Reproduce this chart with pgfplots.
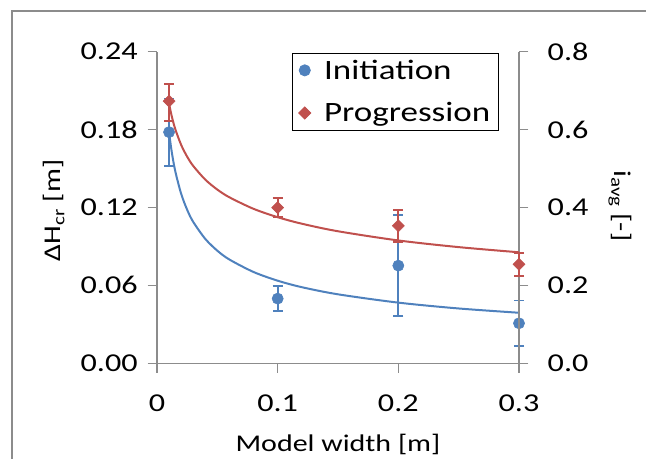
\documentclass[border=0pt]{standalone}
\usepackage{pgfplots}
\pgfplotsset{compat=1.18}
\usepackage{fontspec}
\setmainfont{Carlito}[FakeStretch=1.25]
\definecolor{cblue}{HTML}{4F81BD}
\definecolor{cred}{HTML}{C0504D}
\definecolor{axgray}{HTML}{8C8C8C}
\definecolor{framegray}{HTML}{8C8C8C}
\begin{document}
\begin{tikzpicture}
\path[use as bounding box] (0,0) rectangle (484.5pt,344.25pt);
\draw[framegray, line width=1.5pt] (9pt,-2pt) -- (9pt,336pt) -- (490pt,336pt);
\pgfplotsset{
  mystyle/.style={
    scale only axis, width=271.5pt, height=233.7pt,
    at={(117.75pt,71.8pt)}, anchor=south west,
    xmin=0, xmax=0.3, clip=false,
    axis line style={axgray, line width=0.8pt},
    major tick style={axgray, line width=0.8pt},
    major tick length=7pt, tick align=outside,
    /pgf/number format/assume math mode=true,
    tick label style={font=\fontsize{19.3}{22}\selectfont, black},
    label style={font=\fontsize{18}{21}\selectfont, black},
  }
}
\begin{axis}[mystyle,
  axis x line*=bottom, axis y line*=left,
  ymin=0, ymax=0.24,
  ytick={0,0.06,0.12,0.18,0.24},
  yticklabels={0.00,0.06,0.12,0.18,0.24},
  xtick={0,0.1,0.2,0.3},
  xticklabels={0,0.1,0.2,0.3},
  yticklabel style={xshift=-4pt},
  xticklabel style={yshift=-13pt},
  ylabel={ΔH\textsubscript{cr} [m]},
  xlabel={Model width [m]},
  xlabel style={at={(axis description cs:0.5,-0.262)}, anchor=center},
  ylabel style={at={(axis description cs:-0.2845,0.49)}, anchor=center},
]
\addplot[cblue, line width=1.5pt, smooth] coordinates {
(0.01,0.1780) (0.012,0.1641) (0.015,0.1485) (0.02,0.1306) (0.025,0.1182)
(0.03,0.1089) (0.04,0.0958) (0.05,0.0867) (0.06,0.0799) (0.08,0.0703)
(0.1,0.0636) (0.12,0.0586) (0.15,0.0531) (0.2,0.0467) (0.25,0.0422) (0.3,0.0389)
};
\addplot[cblue, only marks, mark=*, mark size=4.2pt,
  error bars/.cd, y dir=both, y explicit,
  error bar style={cblue, line width=1.3pt},
  error mark options={rotate=90, cblue, line width=1.3pt, mark size=3.75pt}]
coordinates {
(0.01,0.178) +- (0,0.026)
(0.1,0.0498) +- (0,0.0096)
(0.2,0.0752) +- (0,0.039)
(0.3,0.0308) +- (0,0.0175)
};
\end{axis}
\begin{axis}[mystyle,
  axis x line=none, axis y line*=right,
  ymin=0, ymax=0.8,
  ytick={0,0.2,0.4,0.6,0.8},
  yticklabels={0.0,0.2,0.4,0.6,0.8},
  yticklabel style={xshift=11pt},
  ylabel={i\textsubscript{avg} [-]},
  ylabel style={at={(axis description cs:1.28,0.505)}, anchor=center, rotate=180},
  legend style={at={(axis description cs:0.372,0.997)}, anchor=north west,
    draw=black, line width=0.6pt, font=\fontsize{21}{25}\selectfont,
    row sep=12pt, inner xsep=5pt, inner ysep=3pt, column sep=9pt,
    nodes={inner xsep=1pt}},
  legend image post style={xshift=1.5pt},
  legend cell align=left,
]
\addlegendimage{only marks, mark=*, cblue, mark size=4.2pt}
\addlegendentry{Initiation}
\addlegendimage{only marks, mark=square*, mark options={rotate=45}, cred, mark size=3.2pt}
\addlegendentry{Progression}
\addplot[cred, line width=1.5pt, smooth, forget plot] coordinates {
(0.01,0.6669) (0.012,0.6371) (0.015,0.6026) (0.02,0.5608) (0.025,0.5303)
(0.03,0.5067) (0.04,0.4715) (0.05,0.4459) (0.06,0.4261) (0.08,0.3965)
(0.1,0.375) (0.12,0.3583) (0.15,0.3389) (0.2,0.3153) (0.25,0.2982) (0.3,0.2849)
};
\addplot[cred, only marks, mark=square*, mark options={rotate=45}, mark size=3.2pt, forget plot,
  error bars/.cd, y dir=both, y explicit,
  error bar style={cred, line width=1.3pt},
  error mark options={rotate=90, cred, line width=1.3pt, mark size=3.75pt}]
coordinates {
(0.01,0.673) += (0,0.044) -= (0,0.051)
(0.1,0.3995) +- (0,0.024)
(0.2,0.353) +- (0,0.041)
(0.3,0.254) +- (0,0.03)
};
\end{axis}
\end{tikzpicture}
\end{document}
